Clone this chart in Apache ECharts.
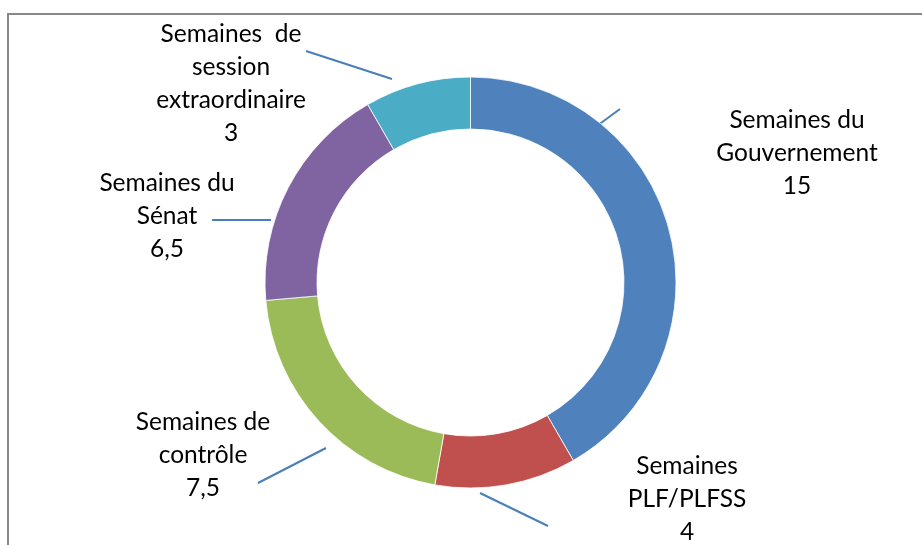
<!DOCTYPE html>
<html><head><meta charset="utf-8">
<script src="https://cdn.jsdelivr.net/npm/echarts@6/dist/echarts.min.js"></script>
<style>html,body{margin:0;padding:0;background:#fff}#c{width:922px;height:545px}</style>
</head><body><div id="c"></div>
<script>
const categories = ['Semaines du\nGouvernement', 'Semaines\nPLF/PLFSS', 'Semaines de\ncontrôle', 'Semaines du\nSénat', 'Semaines  de\nsession\nextraordinaire'];
const values = [15, 4, 7.5, 6.5, 3];
const valueLabels = ['15', '4', '7,5', '6,5', '3'];
const colors = ['#4F81BD', '#C0504D', '#9BBB59', '#8064A2', '#4BACC6'];

// label placement (center of text block) and leader line ends
const labelPos = [[797, 153], [687, 499], [203, 455], [167, 216], [231, 84]];
const leaderLines = [
  [[560, 153], [620, 109]],
  [[480, 493], [548, 526]],
  [[258, 483], [326, 448]],
  [[212, 220], [271, 220]],
  [[306, 51], [392, 79]]
];

const chart = echarts.init(document.getElementById('c'));
chart.setOption({
  animation: false,
  graphic: [{
    type: 'rect', shape: {x: 8, y: 14, width: 940, height: 560},
    style: {fill: 'none', stroke: '#888', lineWidth: 2}, silent: true
  }],
  series: [{
    type: 'pie',
    center: [470.5, 282.5],
    radius: [153.5, 205.5],
    startAngle: 90,
    clockwise: true,
    itemStyle: {borderColor: '#fff', borderWidth: 0.8},
    data: categories.map((c, i) => ({name: c, value: values[i], itemStyle: {color: colors[i]}})),
    label: {
      show: true,
      position: 'outside',
      formatter: p => p.name + '\n' + valueLabels[p.dataIndex],
      fontFamily: 'Lato',
      fontSize: 24.5,
      lineHeight: 33,
      color: '#000',
      align: 'center'
    },
    labelLine: {show: true, lineStyle: {color: '#4A7EBB', width: 2}},
    labelLayout: p => {
      const i = p.dataIndex;
      const l = leaderLines[i];
      return {
        x: labelPos[i][0], y: labelPos[i][1],
        align: 'center', verticalAlign: 'middle',
        labelLinePoints: [l[0], l[0], l[1]]
      };
    }
  }]
});
</script></body></html>
